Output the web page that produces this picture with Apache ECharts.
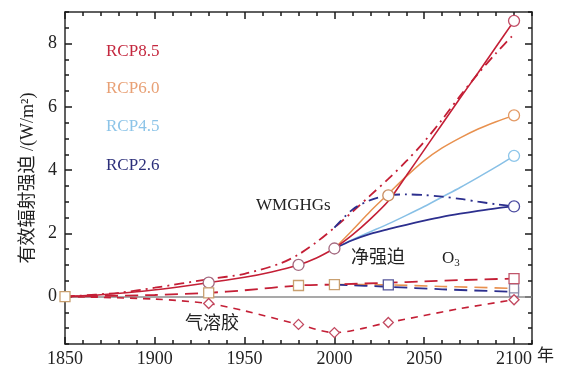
<!DOCTYPE html>
<html>
<head>
<meta charset="utf-8">
<script src="https://cdn.jsdelivr.net/npm/echarts@6/dist/echarts.min.js"></script>
<style>
  html, body { margin: 0; padding: 0; background: #fff; }
  #chart { width: 564px; height: 373px; }
</style>
</head>
<body>
<div id="chart"></div>
<script>
// historical net forcing
const histYears = [1850, 1870, 1890, 1910, 1930, 1950, 1965, 1980, 1990, 2000];
const histNet = [0, 0.06, 0.15, 0.28, 0.44, 0.61, 0.78, 1.0, 1.22, 1.52];

// RCP net forcing
const rcpYears = [2000, 2010, 2020, 2030, 2040, 2050, 2060, 2070, 2080, 2090, 2100];
const rcp85 = [1.52, 1.95, 2.45, 3.02, 3.82, 4.64, 5.46, 6.28, 7.08, 7.9, 8.72];
const rcp60 = [1.52, 2.1, 2.7, 3.25, 3.8, 4.3, 4.7, 5.02, 5.3, 5.53, 5.73];
const rcp45 = [1.52, 1.8, 2.05, 2.3, 2.57, 2.85, 3.15, 3.45, 3.77, 4.1, 4.45];
const rcp26 = [1.52, 1.78, 1.98, 2.13, 2.27, 2.4, 2.52, 2.62, 2.71, 2.79, 2.85];

// WMGHGs
const ghgYears = [1850, 1880, 1900, 1930, 1950, 1970, 1980, 1990, 2000, 2010, 2020, 2030, 2040, 2050, 2060, 2070, 2080, 2090, 2100];
const ghg85 = [0, 0.12, 0.28, 0.55, 0.72, 1.05, 1.33, 1.72, 2.18, 2.68, 3.2, 3.72, 4.28, 4.9, 5.6, 6.35, 7.05, 7.7, 8.3];
const ghg26Years = [2000, 2010, 2020, 2030, 2040, 2050, 2060, 2070, 2080, 2090, 2100];
const ghg26 = [2.18, 2.75, 3.05, 3.2, 3.23, 3.21, 3.16, 3.09, 3.0, 2.92, 2.85];

// O3
const o3Years = [1850, 1900, 1930, 1950, 1980, 2000, 2030, 2050, 2070, 2100];
const o385 = [0, 0.05, 0.12, 0.2, 0.35, 0.38, 0.44, 0.48, 0.52, 0.57];
const o3RcpYears = [2000, 2030, 2060, 2100];
const o360 = [0.38, 0.37, 0.32, 0.26];
const o326 = [0.38, 0.31, 0.23, 0.15];

// aerosols
const aerYears = [1850, 1900, 1930, 1950, 1980, 2000, 2030, 2050, 2070, 2100];
const aer85 = [0, -0.08, -0.22, -0.45, -0.88, -1.14, -0.82, -0.6, -0.38, -0.1];

// axis ticks
const xMajor = [1850, 1900, 1950, 2000, 2050, 2100];
const yMajor = [0, 2, 4, 6, 8];

const RED = '#c41f36', ORANGE = '#e8914f', LBLUE = '#88c0e6', DBLUE = '#2c2f8e';
const FONT = '"Liberation Serif", "Noto Sans CJK SC", serif';
const CJK = '"Noto Sans CJK SC", sans-serif';

function zip(xs, ys) { return xs.map((x, i) => [x, ys[i]]); }
function pick(xs, ys, at) { return at.map(a => [a, ys[xs.indexOf(a)]]); }

function line(data, color, type, width, z) {
  return {
    type: 'line', data: data, symbol: 'none', smooth: 0.3,
    lineStyle: { color: color, width: width || 1.6, type: type || 'solid' },
    z: z || 3, silent: true
  };
}
function marks(data, symbol, color, size) {
  return {
    type: 'scatter', data: data, symbol: symbol, symbolSize: size || 10,
    itemStyle: { color: '#fff', borderColor: color, borderWidth: 1.3, opacity: 1 },
    z: 5, silent: true
  };
}

const frame = { show: true, onZero: false, lineStyle: { color: '#2b2b2b', width: 1.5 } };
const tickStyle = { color: '#1a1a1a', width: 1.5 };

function xAx(pos, major) {
  const ax = {
    type: 'value', min: 1850, max: 2110, position: pos,
    axisLine: major ? frame : { show: false, onZero: false },
    axisTick: { show: true, inside: true, length: major ? 7 : 4, lineStyle: tickStyle },
    axisLabel: { show: false },
    splitLine: { show: false }
  };
  if (major) {
    ax.axisTick.customValues = xMajor;
    if (pos === 'bottom') {
      ax.axisLabel = {
        show: true, customValues: xMajor, margin: 6, color: '#222', fontFamily: FONT, fontSize: 18,
        formatter: v => String(v)
      };
    }
  } else {
    ax.interval = 10;
  }
  return ax;
}
function yAx(pos, major) {
  const ax = {
    type: 'value', min: -1.5, max: 9, position: pos,
    axisLine: major ? frame : { show: false, onZero: false },
    axisTick: { show: true, inside: true, length: major ? 7 : 4, lineStyle: tickStyle },
    axisLabel: { show: false },
    splitLine: { show: false }
  };
  if (major) {
    ax.axisTick.customValues = yMajor;
    if (pos === 'left') {
      ax.axisLabel = {
        show: true, customValues: yMajor, margin: 8, color: '#222', fontFamily: FONT, fontSize: 18,
        formatter: v => String(v)
      };
      ax.name = '有效辐射强迫 /(W/m²)';
      ax.nameLocation = 'middle';
      ax.nameGap = 27;
      ax.nameRotate = 90;
      ax.nameTextStyle = { color: '#222', fontFamily: FONT, fontSize: 18 };
    }
  } else {
    ax.interval = 0.5;
  }
  return ax;
}

const chart = echarts.init(document.getElementById('chart'));
chart.setOption({
  animation: false,
  backgroundColor: '#fff',
  grid: { left: 65, right: 32, top: 12, bottom: 29, containLabel: false },
  xAxis: [xAx('bottom', true), xAx('bottom', false), xAx('top', true), xAx('top', false)],
  yAxis: [yAx('left', true), yAx('left', false), yAx('right', true), yAx('right', false)],
  series: [
    Object.assign(line(zip(histYears, histNet), RED, 'solid', 1.6, 4), {
      markLine: {
        silent: true, symbol: 'none', label: { show: false },
        lineStyle: { color: '#8c8c8c', width: 1.5, type: 'solid' },
        data: [{ yAxis: 0 }], z: 1
      }
    }),
    line(zip(rcpYears, rcp85), RED, 'solid', 1.6, 4),
    line(zip(rcpYears, rcp60), ORANGE, 'solid', 1.5),
    line(zip(rcpYears, rcp45), LBLUE, 'solid', 1.5),
    line(zip(rcpYears, rcp26), DBLUE, 'solid', 1.8),
    line(zip(ghgYears, ghg85), RED, [10, 5, 2, 5], 1.8),
    line(zip(ghg26Years, ghg26), DBLUE, [10, 5, 2, 5], 1.8),
    line(zip(o3RcpYears, o360), ORANGE, [13, 7], 1.6),
    line(zip(o3RcpYears, o326), DBLUE, [13, 7], 1.8),
    line(zip(o3Years, o385), RED, [13, 7], 1.8),
    line(zip(aerYears, aer85), RED, [7, 6], 1.6),
    marks(pick(histYears, histNet, [1930, 1980, 2000]), 'circle', '#a46a80', 11),
    marks(pick(ghg26Years, ghg26, [2030]), 'circle', '#c98e62', 11),
    marks([[2100, rcp85[10]]], 'circle', '#c24d66', 11),
    marks([[2100, rcp60[10]]], 'circle', '#e39a66', 11),
    marks([[2100, rcp45[10]]], 'circle', '#8ec6ea', 11),
    marks([[2100, rcp26[10]]], 'circle', '#4b4ba0', 11),
    marks(pick(o3Years, o385, [1850, 1930, 1980, 2000]), 'rect', '#c9a070', 10),
    marks(pick(o3RcpYears, o360, [2030]), 'rect', '#55569a', 10),
    marks([[2100, o326[3]], [2100, o360[3]]], 'rect', '#8a8aa8', 9),
    marks([[2100, o385[9]]], 'rect', '#c0566a', 10),
    marks(pick(aerYears, aer85, [1930, 1980, 2000, 2030, 2100]), 'diamond', '#c2485f', 10)
  ],
  graphic: [
    { type: 'text', left: 106, top: 43, style: { text: 'RCP8.5', fill: '#c4283f', font: '17px ' + FONT } },
    { type: 'text', left: 106, top: 80, style: { text: 'RCP6.0', fill: '#e8a075', font: '17px ' + FONT } },
    { type: 'text', left: 106, top: 118, style: { text: 'RCP4.5', fill: '#8cc4e8', font: '17px ' + FONT } },
    { type: 'text', left: 106, top: 157, style: { text: 'RCP2.6', fill: '#2c2f7a', font: '17px ' + FONT } },
    { type: 'text', left: 256, top: 197, style: { text: 'WMGHGs', fill: '#222', font: '17px ' + FONT } },
    { type: 'text', left: 351, top: 247, style: { text: '净强迫', fill: '#222', font: '18px ' + CJK } },
    {
      type: 'text', left: 442, top: 250,
      style: {
        text: '{o|O}{s|3}', fill: '#222',
        rich: {
          o: { fontFamily: FONT, fontSize: 17, fill: '#222' },
          s: { fontFamily: FONT, fontSize: 11, fill: '#222', padding: [10, 0, 0, 0] }
        }
      }
    },
    { type: 'text', left: 185, top: 313, style: { text: '气溶胶', fill: '#222', font: '18px ' + CJK } },
    { type: 'text', left: 537, top: 346, style: { text: '年', fill: '#222', font: '17px ' + CJK } }
  ]
});
</script>
</body>
</html>
